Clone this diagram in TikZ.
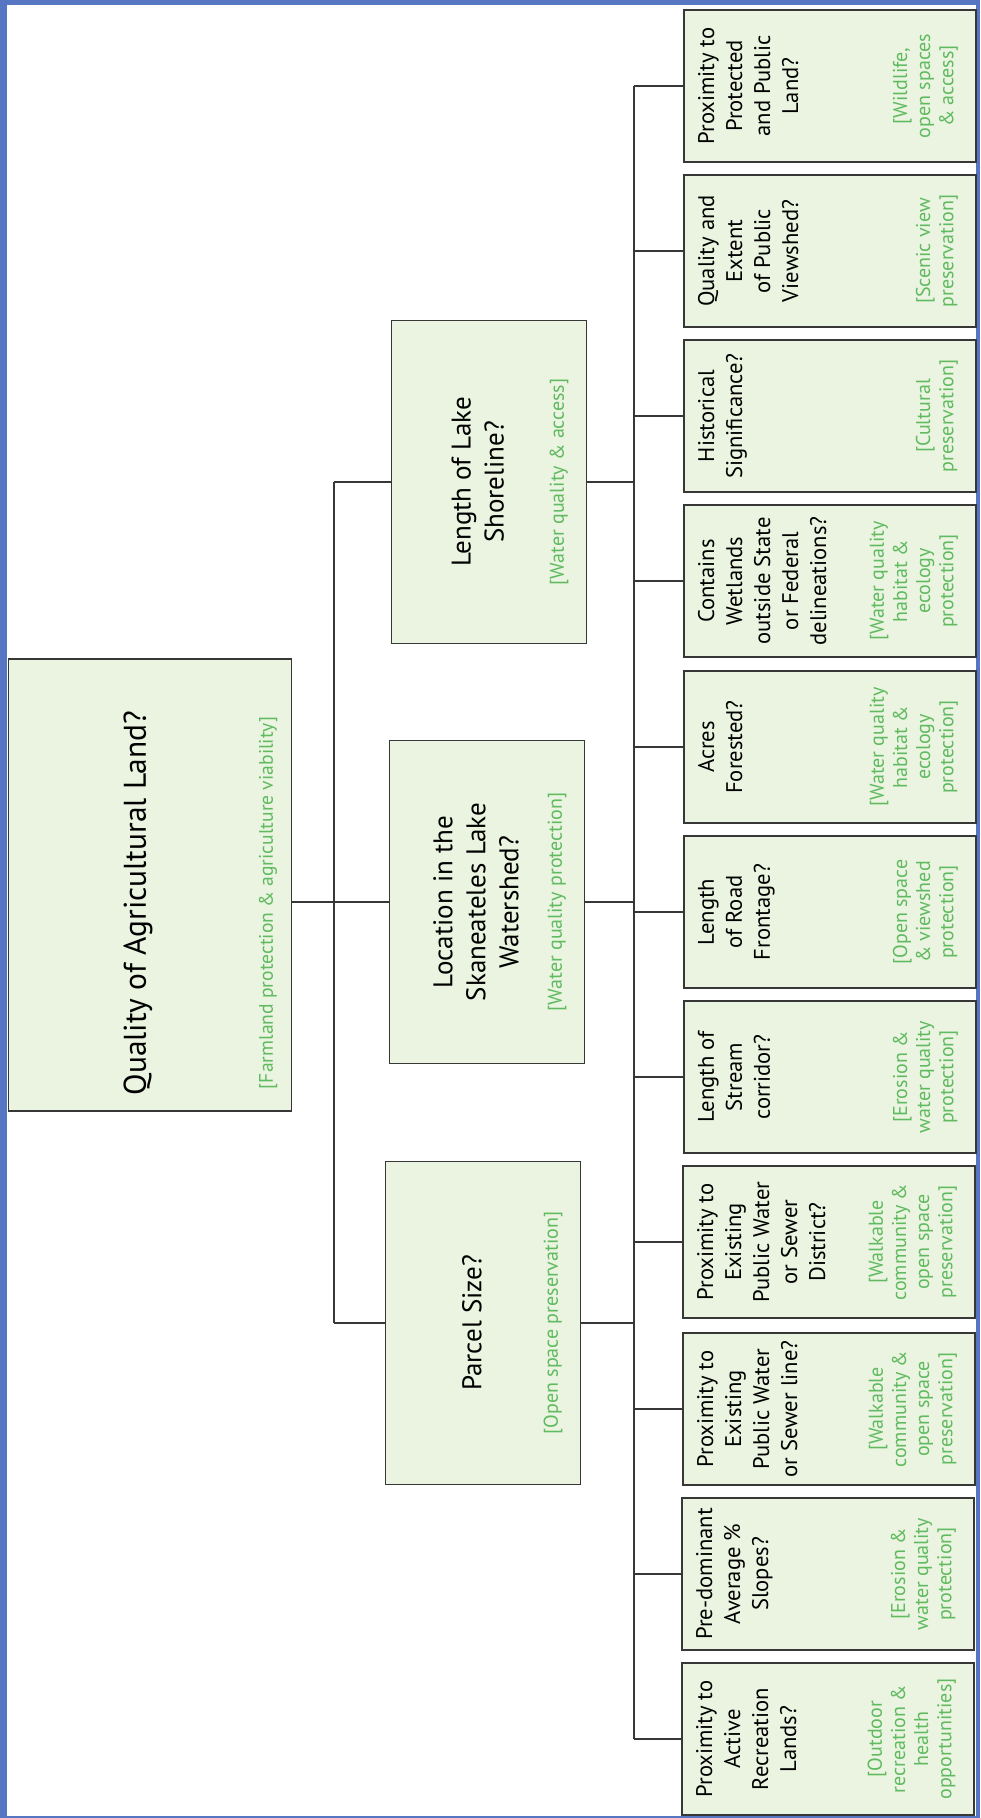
\documentclass[tikz,border=0pt]{standalone}
\usepackage{fontspec}
\setmainfont{PT Sans}
\usepackage{tikz}

\definecolor{boxfill}{RGB}{234,244,224}
\definecolor{aimgreen}{RGB}{96,186,96}
\definecolor{frameblue}{RGB}{86,118,196}
\definecolor{linegray}{RGB}{55,55,55}

% text of a criterion box: question on top, aim at the bottom
\newcommand{\leaftext}[2]{%
  \begin{minipage}[c][146pt][t]{74pt}\centering
  \vspace*{7pt}
  {\fontsize{11.3}{14}\selectfont #1\par}
  \vfill
  {\fontsize{10}{11.6}\selectfont\color{aimgreen}#2\par}
  \vspace*{9pt}
  \end{minipage}}
\newcommand{\branchtext}[2]{%
  \begin{minipage}[c][97.5pt][t]{158pt}\centering
  \vspace*{12pt}
  \vspace*{\fill}
  {\fontsize{13.5}{16.5}\selectfont #1\par}
  \vspace*{\fill}
  {\fontsize{10}{12}\selectfont\color{aimgreen}#2\par}
  \vspace*{9pt}
  \end{minipage}}

\begin{document}
\begin{tikzpicture}[
        x=0.5pt, y=-0.5pt,
        qbox/.style={draw=linegray, line width=0.9pt, fill=boxfill, rotate=90, inner sep=0pt},
        leaf/.style={qbox, minimum width=76pt, minimum height=145pt},
        branch/.style={qbox, minimum width=161.5pt, minimum height=97.5pt},
        topq/.style={qbox, minimum width=226pt, minimum height=141.5pt},
        link/.style={draw=linegray, line width=1pt}
        ]
        \useasboundingbox (0,0) rectangle (980,1818);
        \fill[frameblue] (0,0) rectangle (980,1818);
        \fill[white] (7,5) rectangle (976,1816);

        % goal
        \node[topq] (root) at (150,885) {%
          \hspace*{-18pt}\begin{minipage}[c][141.5pt][t]{220pt}\centering
          \vspace*{5pt}
          \vspace*{\fill}
          {\fontsize{15.7}{19}\selectfont Quality of Agricultural Land?\par}
          \vspace*{\fill}
          {\fontsize{9.8}{11}\selectfont\color{aimgreen}[Farmland protection \& agriculture viability]\par}
          \vspace*{7pt}
          \end{minipage}};

        % main criteria
        \node[branch] (lake) at (489,482) {\branchtext{Length of Lake\\Shoreline?}{[Water quality \& access]}};
        \node[branch] (loc) at (487,902) {\branchtext{Location in the\\Skaneateles Lake\\Watershed?}{[Water quality protection]}};
        \node[branch] (parcel) at (483,1323) {\branchtext{Parcel Size?}{[Open space preservation]}};

        % sub criteria
        \node[leaf] (protected) at (830,86) {\leaftext{Proximity to\\Protected\\and Public\\Land?}{[Wildlife,\\open spaces\\\& access]}};
        \node[leaf] (viewshed) at (830,251) {\leaftext{Quality and\\Extent\\of Public\\Viewshed?}{[Scenic view\\preservation]}};
        \node[leaf] (historic) at (830,416) {\leaftext{Historical\\Significance?}{[Cultural\\preservation]}};
        \node[leaf] (wetlands) at (830,581) {\leaftext{Contains\\Wetlands\\outside State\\or Federal\\delineations?}{[Water quality\\habitat \&\\ecology\\protection]}};
        \node[leaf] (forested) at (830,747) {\leaftext{Acres\\Forested?}{[Water quality\\habitat \&\\ecology\\protection]}};
        \node[leaf] (roadfront) at (830,912) {\leaftext{Length\\of Road\\Frontage?}{[Open space\\\& viewshed\\protection]}};
        \node[leaf] (stream) at (830,1077) {\leaftext{Length of\\Stream\\corridor?}{[Erosion \&\\water quality\\protection]}};
        \node[leaf] (district) at (829,1242) {\leaftext{Proximity to\\Existing\\Public Water\\or Sewer\\District?}{[Walkable\\community \&\\open space\\preservation]}};
        \node[leaf] (sewerline) at (829,1409) {\leaftext{Proximity to\\Existing\\Public Water\\or Sewer line?}{[Walkable\\community \&\\open space\\preservation]}};
        \node[leaf] (slopes) at (828,1574) {\leaftext{Pre-dominant\\Average \%\\Slopes?}{[Erosion \&\\water quality\\protection]}};
        \node[leaf] (recreation) at (828,1739) {\leaftext{Proximity to\\Active\\Recreation\\Lands?}{[Outdoor\\recreation \&\\health\\opportunities]}};

        \coordinate (trunkA) at (334,0);
        \coordinate (trunkB) at (634,0);

        % goal to main criteria
        \draw[link] (root.south |- loc) -- (loc.north);
        \draw[link] (trunkA |- lake) -- (trunkA |- parcel);
        \path[link]
              (trunkA |- lake) edge (lake.north)
              (trunkA |- parcel) edge (parcel.north);

        % main criteria to sub criteria
        \draw[link] (trunkB |- protected) -- (trunkB |- recreation);
        \path[link]
              (lake.south) edge (trunkB |- lake)
              (loc.south) edge (trunkB |- loc)
              (parcel.south) edge (trunkB |- parcel)
              (trunkB |- protected) edge (protected.north)
              (trunkB |- viewshed) edge (viewshed.north)
              (trunkB |- historic) edge (historic.north)
              (trunkB |- wetlands) edge (wetlands.north)
              (trunkB |- forested) edge (forested.north)
              (trunkB |- roadfront) edge (roadfront.north)
              (trunkB |- stream) edge (stream.north)
              (trunkB |- district) edge (district.north)
              (trunkB |- sewerline) edge (sewerline.north)
              (trunkB |- slopes) edge (slopes.north)
              (trunkB |- recreation) edge (recreation.north);
\end{tikzpicture}
\end{document}
